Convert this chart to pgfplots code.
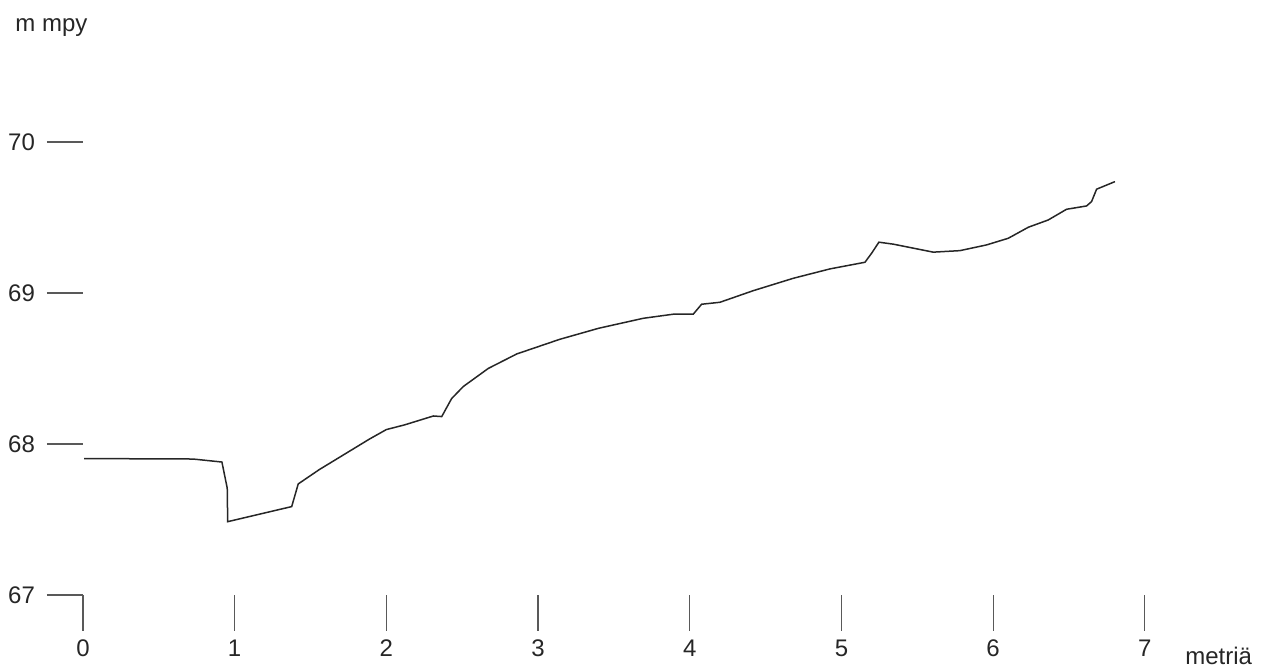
\documentclass[border=0pt]{standalone}
\usepackage{pgfplots}
\pgfplotsset{compat=1.18}
\usepackage{fontspec}
\setmainfont{Liberation Sans}

\begin{document}
\begin{tikzpicture}
\begin{axis}[
    x=75.85pt, y=75.5pt,
    xmin=0, xmax=7, ymin=67, ymax=70,
    enlargelimits=false,
    clip=false,
    axis line style={draw=none},
    tick pos=left,
    tick align=outside,
    major tick length=18pt,
    tick style={black!65, line width=0.6pt},
    xtick={0,1,...,7},
    ytick={67,68,69,70},
    /pgf/number format/assume math mode=true,
    ticklabel style={font=\fontsize{12}{14}\selectfont, text=black!85},
    yticklabel style={xshift=-2.5pt},
    xticklabel style={yshift=-1pt},
]
\addplot[black!85, line width=0.75pt] coordinates {
    (0.007,67.903) (0.725,67.900) (0.916,67.880) (0.951,67.707)
    (0.954,67.485) (1.376,67.585) (1.419,67.735) (1.558,67.830)
    (1.890,68.033) (2.000,68.095) (2.120,68.126) (2.310,68.185)
    (2.365,68.181) (2.430,68.300) (2.507,68.380) (2.672,68.500)
    (2.860,68.596) (3.144,68.693) (3.400,68.766) (3.694,68.832)
    (3.891,68.859) (4.023,68.859) (4.078,68.925) (4.199,68.938)
    (4.419,69.015) (4.683,69.097) (4.924,69.159) (5.155,69.203)
    (5.199,69.263) (5.247,69.336) (5.341,69.323) (5.605,69.270)
    (5.781,69.280) (5.957,69.318) (6.100,69.362) (6.232,69.435)
    (6.363,69.483) (6.484,69.554) (6.616,69.576) (6.649,69.605)
    (6.682,69.687) (6.803,69.737)
};
\node[anchor=base west, inner sep=0pt, font=\fontsize{12}{14}\selectfont, text=black!85] at (axis cs:-0.448,70.728) {m mpy};
\node[anchor=base west, inner sep=0pt, font=\fontsize{12}{14}\selectfont, text=black!85] at (axis cs:7.264,66.536) {metriä};
\coordinate (bl) at (axis cs:-0.547,66.503);
\coordinate (tr) at (axis cs:7.779,70.940);
\end{axis}
\pgfresetboundingbox
\path[use as bounding box] (bl) rectangle (tr);
\end{tikzpicture}
\end{document}
